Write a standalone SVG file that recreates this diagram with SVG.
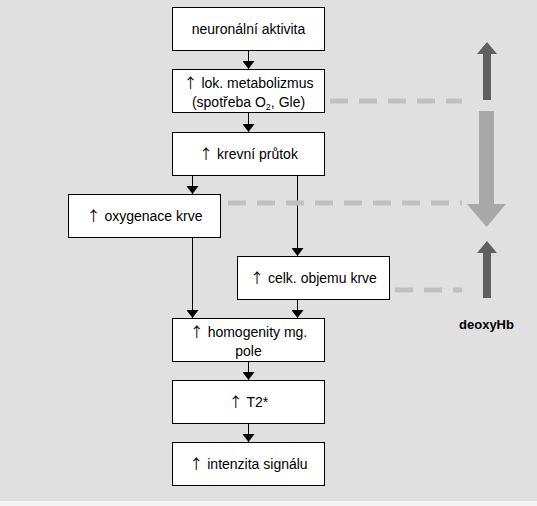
<svg xmlns="http://www.w3.org/2000/svg" width="537" height="506" viewBox="0 0 537 506">
<defs>
<style>
.box{fill:#ffffff;stroke:#000000;stroke-width:1}
.t{font-family:"Liberation Sans",Arial,sans-serif;font-size:14px;fill:#000;text-anchor:middle}
.up{font-family:"Noto Sans CJK JP","DejaVu Sans",sans-serif;font-size:14px;font-weight:400}
.c{stroke:#000;stroke-width:1;fill:none;marker-end:url(#ah)}
.dash{stroke:#c0c0c0;stroke-width:5;stroke-dasharray:18 11;fill:none}
</style>
<marker id="ah" markerWidth="8" markerHeight="12" refX="8" refY="6" orient="auto" markerUnits="userSpaceOnUse" viewBox="0 0 8 12">
<path d="M0,0 L8,6 L0,12 Z" fill="#000"/>
</marker>
</defs>
<rect x="0" y="0" width="537" height="506" fill="#f4f4f4"/>
<rect x="0" y="0" width="537" height="501" fill="#e0e0e0"/>

<g id="connectors">
<path class="c" d="M248.5,51 V69"/>
<path class="c" d="M248.5,113 V132"/>
<path class="c" d="M192.5,176 V194"/>
<path class="c" d="M297.5,176 V256"/>
<path class="c" d="M192.5,237 V318"/>
<path class="c" d="M297.5,299 V318"/>
<path class="c" d="M248.5,362 V380"/>
<path class="c" d="M248.5,424 V442"/>
<path class="dash" d="M330,101 H462"/>
<path class="dash" d="M228,203 H462"/>
<path class="dash" d="M395,290 H462"/>
</g>

<g id="n1"><rect class="box" x="172.5" y="7.5" width="152" height="43"/><text class="t" x="248.5" y="34">neuronální aktivita</text></g>
<g id="n2"><rect class="box" x="172.5" y="69.5" width="152" height="43"/><text class="t" x="248.5" y="88"><tspan class="up">↑</tspan> lok. metabolizmus</text><text class="t" x="248.5" y="106.5">(spotřeba O<tspan font-size="9" dy="3">2</tspan><tspan dy="-3">, Gle)</tspan></text></g>
<g id="n3"><rect class="box" x="172.5" y="132.5" width="152" height="43"/><text class="t" x="248.5" y="159"><tspan class="up">↑</tspan> krevní průtok</text></g>
<g id="n4"><rect class="box" x="68.5" y="194.5" width="152" height="43"/><text class="t" x="144.5" y="221"><tspan class="up">↑</tspan> oxygenace krve</text></g>
<g id="n5"><rect class="box" x="237.5" y="256.5" width="152" height="43"/><text class="t" x="313.5" y="283"><tspan class="up">↑</tspan> celk. objemu krve</text></g>
<g id="n6"><rect class="box" x="172.5" y="318.5" width="152" height="43"/><text class="t" x="248.5" y="337"><tspan class="up">↑</tspan> homogenity mg.</text><text class="t" x="248.5" y="355.5">pole</text></g>
<g id="n7"><rect class="box" x="172.5" y="380.5" width="152" height="43"/><text class="t" x="248.5" y="407"><tspan class="up">↑</tspan> T2*</text></g>
<g id="n8"><rect class="box" x="172.5" y="442.5" width="152" height="43"/><text class="t" x="248.5" y="469"><tspan class="up">↑</tspan> intenzita signálu</text></g>

<g id="deoxyHb">
<path d="M483,100 V54 H477 L487,42 L497,54 H491 V100 Z" fill="#606060"/>
<path d="M479,111 H494 V204 H506 L486.5,227 L467,204 H479 Z" fill="#a8a8a8"/>
<path d="M483,298 V253 H477 L487,241 L497,253 H491 V298 Z" fill="#606060"/>
<text x="486.5" y="329" font-family="'Liberation Sans',Arial,sans-serif" font-size="13" font-weight="bold" text-anchor="middle" fill="#000">deoxyHb</text>
</g>
</svg>
